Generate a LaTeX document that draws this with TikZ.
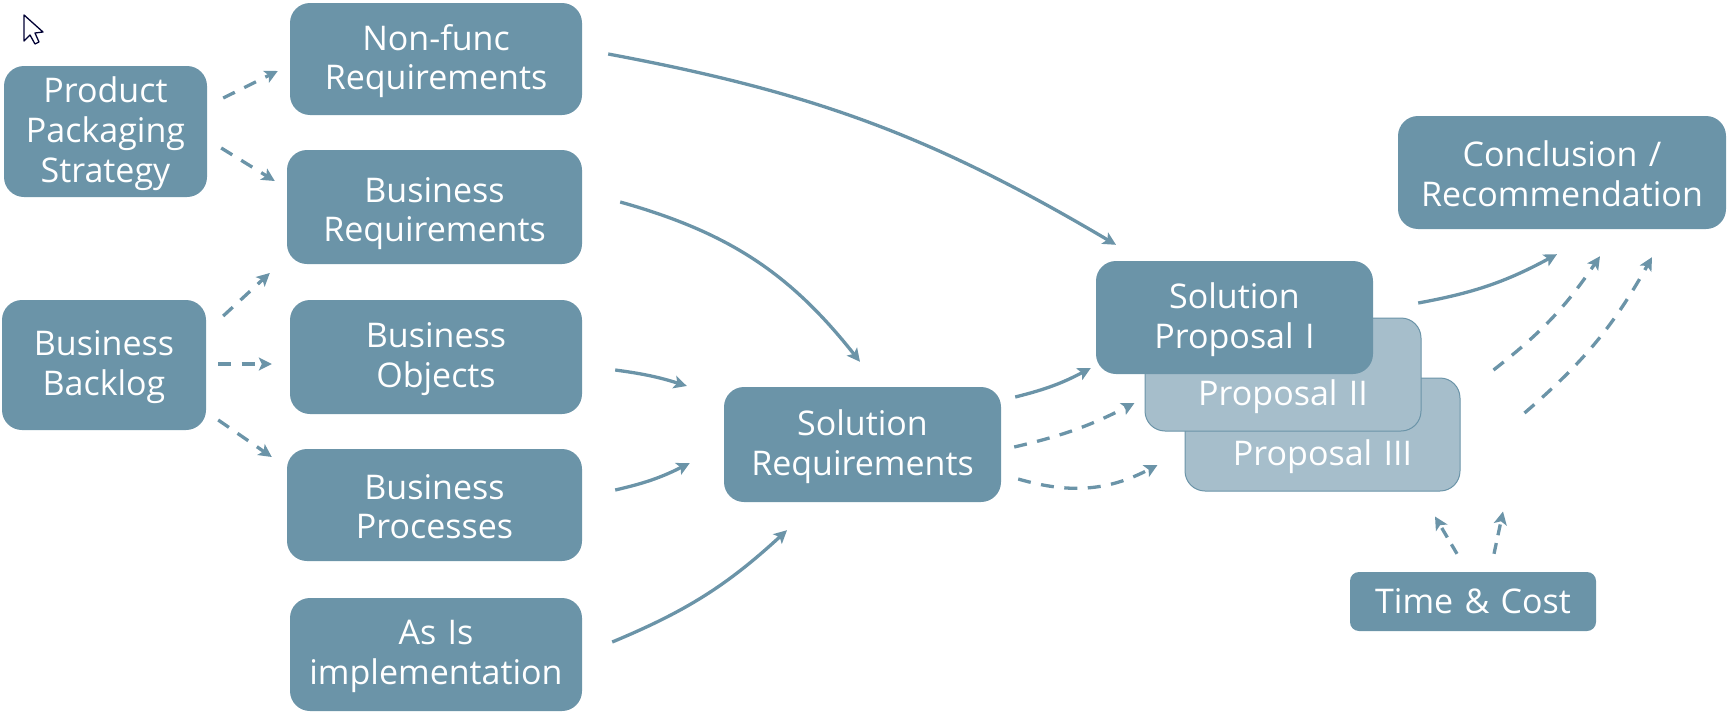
\documentclass[tikz,border=0pt]{standalone}
\usepackage{fontspec}
\setmainfont{Open Sans}
\usetikzlibrary{arrows.meta}
\definecolor{dk}{HTML}{6B94A8}
\definecolor{lt}{HTML}{A6BECB}
\tikzset{
  box/.style={fill=dk,rounded corners=20pt,inner sep=0pt,text=white,align=center,
    font=\fontsize{34}{39.7}\selectfont,text width=#1,
    execute at begin node={\lineskiplimit=-30pt\relax},
    execute at end node={\par\vspace*{-4.4pt}}},
  box/.default=280pt,
  backbox/.style={box=260pt,fill=lt,draw=dk,line width=1pt},
  sol/.style={draw=dk,line width=3.3pt,-{Stealth[length=13pt,width=13pt,inset=3pt]}},
  dsh/.style={sol,dash pattern=on 13pt off 10.5pt},
  dshshort/.style={sol,dash pattern=on 11pt off 8pt},
}
\begin{document}
\begin{tikzpicture}[x=1pt,y=-1pt]
\useasboundingbox (0,0) rectangle (1729,712);
\node[box=198pt,minimum width=203pt,minimum height=131pt] (pp) at (105.5,131.5) {Product\\Packaging\\Strategy};
\node[box,minimum width=292pt,minimum height=112pt] (nf) at (436,59) {Non-func\\Requirements};
\node[box,minimum width=295pt,minimum height=114pt,execute at end node={\par\vspace*{-8.8pt}}] (br) at (434.5,207) {Business\\Requirements};
\node[box,minimum width=292pt,minimum height=114pt] (bo) at (436,357) {Business\\Objects};
\node[box,minimum width=295pt,minimum height=112pt,execute at end node={\par\vspace*{1pt}}] (bp) at (434.5,505) {Business\\Processes};
\node[box,minimum width=292pt,minimum height=113pt] (ai) at (436,654.5) {As Is\\implementation};
\node[box=198pt,minimum width=204pt,minimum height=130pt] (bb) at (104,365) {Business\\Backlog};
\node[box=270pt,minimum width=277pt,minimum height=115pt] (sr) at (862.5,444.5) {Solution\\Requirements};
\node[backbox,minimum width=275pt,minimum height=113pt] (s3) at (1322.5,434.5) {\phantom{x}\\[8pt]Proposal III};
\node[backbox,minimum width=276pt,minimum height=113pt] (s2) at (1283,374.5) {\phantom{x}\\[8pt]Proposal II};
\node[box=270pt,minimum width=277pt,minimum height=113pt] (s1) at (1234.5,317.5) {Solution\\Proposal I};
\node[box=325pt,minimum width=328pt,minimum height=113pt,execute at end node={\par\vspace*{2.2pt}}] (cr) at (1562,172.5) {Conclusion /\\Recommendation};
\node[box=240pt,rounded corners=9pt,minimum width=246pt,minimum height=59pt,
  execute at end node={\par\vspace*{6pt}}] (tc) at (1473,601.5) {Time \& Cost};
% dashed straight
\draw[dsh] ([shift={(16,-33.5)}]pp.east) -- ([shift={(-12,12)}]nf.west);
\draw[dsh] ([shift={(14,16.5)}]pp.east) -- ([shift={(-12,-26)}]br.west);
\draw[dsh] ([shift={(17,-49)}]bb.east) -- ([shift={(-17,66)}]br.west);
\draw[dsh] ([shift={(12,-1)}]bb.east) -- ([shift={(-18,7)}]bo.west);
\draw[dsh] ([shift={(12,55)}]bb.east) -- ([shift={(-15,-48)}]bp.west);
% solid curves
\draw[sol] ([shift={(26,-5)}]nf.east) to[bend left=10] ([shift={(-118.5,-16)}]s1.north);
\draw[sol] ([shift={(38,-5)}]br.east) to[bend left=18] ([shift={(-2.5,-25)}]sr.north);
\draw[sol] ([shift={(33,13)}]bo.east) to[bend left=5] ([shift={(-37,-58.5)}]sr.west);
\draw[sol] ([shift={(33,-15)}]bp.east) to[bend right=7] ([shift={(-34,18.5)}]sr.west);
\draw[sol] ([shift={(30,-12.5)}]ai.east) to[bend right=10] ([shift={(-75.5,28)}]sr.south);
\draw[sol] ([shift={(14,-47.5)}]sr.east) to[bend right=7] ([shift={(-5,50.5)}]s1.west);
\draw[dsh] ([shift={(13,2.5)}]sr.east) to[bend right=7] ([shift={(-10,28.5)}]s2.west);
\draw[dsh] ([shift={(17,34.5)}]sr.east) to[bend right=22] ([shift={(-27,30.5)}]s3.west);
\draw[sol] ([shift={(45,-14.5)}]s1.east) to[bend right=9] ([shift={(-5,25)}]cr.south);
\draw[dsh] ([shift={(72,-4.5)}]s2.east) to[bend right=9] ([shift={(38,27)}]cr.south);
\draw[dsh] ([shift={(64,-21.5)}]s3.east) to[bend right=10] ([shift={(90,28)}]cr.south);
\draw[dshshort] ([shift={(-16,-18)}]tc.north) -- ([shift={(112.5,25)}]s3.south);
\draw[dshshort] ([shift={(21,-18)}]tc.north) -- ([shift={(180.5,20)}]s3.south);
% mouse pointer
\draw[fill=white,draw=black!80!blue,line width=1.3pt,line join=round]
  (24,15) -- (24,41) -- (30,35) -- (35,44) -- (39,42) -- (35,33) -- (43,32) -- cycle;
\end{tikzpicture}
\end{document}
